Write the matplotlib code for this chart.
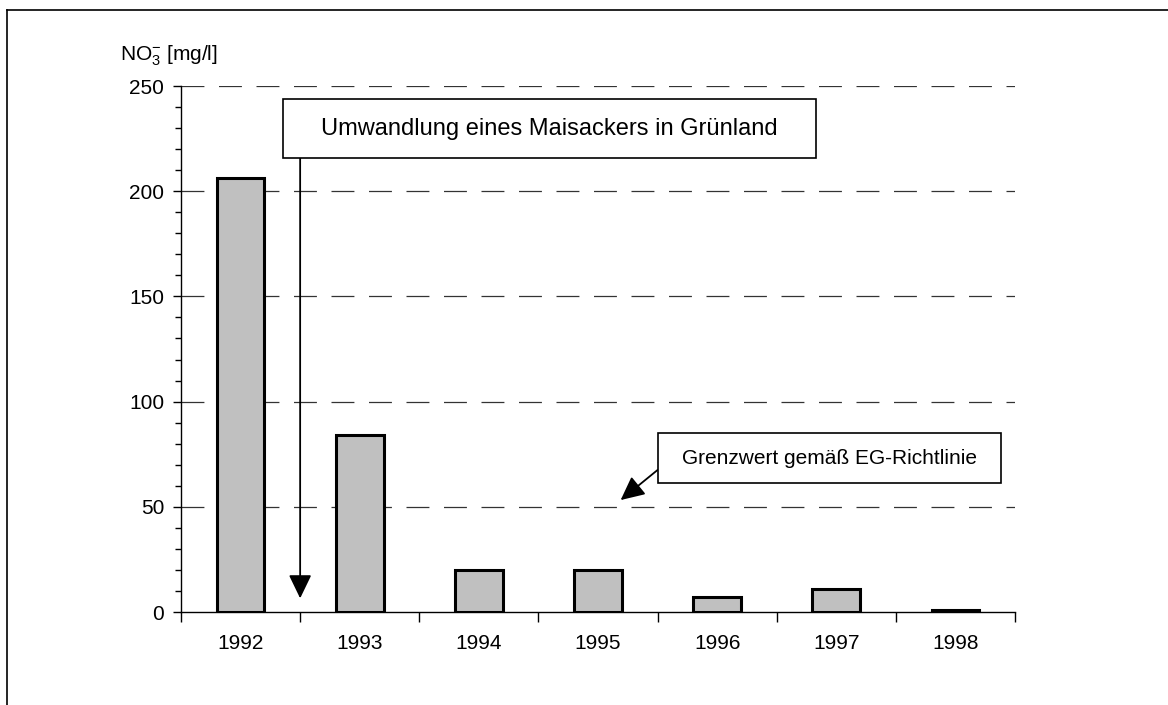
import numpy as np
import matplotlib
matplotlib.use('Agg')
import matplotlib.pyplot as plt
from matplotlib.patches import Rectangle
from matplotlib.lines import Line2D

plt.rcParams['font.family'] = ['Liberation Sans', 'DejaVu Sans']
plt.rcParams['mathtext.fontset'] = 'custom'
plt.rcParams['mathtext.rm'] = 'Liberation Sans'
plt.rcParams['mathtext.it'] = 'Liberation Sans'
plt.rcParams['lines.scale_dashes'] = False

years = ['1992', '1993', '1994', '1995', '1996', '1997', '1998']
nitrate = [206.5, 84, 20, 20, 7, 10.8, 1.0]
grid_levels = [50, 100, 150, 200, 250]

fig = plt.figure(figsize=(11.68, 7.05), dpi=100)
ax = fig.add_axes([181 / 1168, 1 - 612 / 705, 834 / 1168, 526 / 705])

x = np.arange(len(years))

# dashed horizontal lines behind the bars
for lvl in grid_levels:
	ax.axhline(lvl, color='#333333', linewidth=0.9, dashes=(16.5, 10.5), zorder=1)

ax.bar(x, nitrate, width=0.4, color='#c0c0c0', edgecolor='black', linewidth=2.2, zorder=3)

ax.set_xlim(-0.5, len(years) - 0.5)
ax.set_ylim(0, 250)

ax.spines['top'].set_visible(False)
ax.spines['right'].set_visible(False)
ax.spines['left'].set_linewidth(1.0)
ax.spines['bottom'].set_linewidth(1.0)

ax.set_yticks(np.arange(0, 251, 50))
ax.set_yticks(np.arange(0, 251, 10), minor=True)
ax.tick_params(axis='y', which='major', direction='out', length=6, width=1, labelsize=15, pad=6)
ax.tick_params(axis='y', which='minor', direction='out', length=4, width=1)

ax.set_xticks(x)
ax.set_xticklabels(years)
ax.set_xticks(np.arange(-0.5, len(years), 1.0), minor=True)
ax.tick_params(axis='x', which='major', length=0, labelsize=15, pad=16)
ax.tick_params(axis='x', which='minor', direction='out', length=7, width=1)

arrow_style = '-|>,head_length=1.45,head_width=0.7'

# annotation 1: box with long vertical arrow
ax.add_patch(Rectangle((0.356, 215.7), 4.474, 28.0, facecolor='white', edgecolor='black',
					   linewidth=1.2, zorder=5, clip_on=False))
ax.text(2.593, 229.7, 'Umwandlung eines Maisackers in Grünland', ha='center', va='center',
		fontsize=17, zorder=6)
ax.annotate('', xy=(0.5, 6.5), xytext=(0.5, 215.7),
			arrowprops=dict(arrowstyle=arrow_style, color='black',
							linewidth=1.3, shrinkA=0, shrinkB=0), zorder=4)

# annotation 2: limit value box
ax.add_patch(Rectangle((3.5, 61.3), 2.88, 23.7, facecolor='white', edgecolor='black',
					   linewidth=1.2, zorder=5, clip_on=False))
ax.text(4.94, 73.1, 'Grenzwert gemäß EG-Richtlinie', ha='center', va='center',
		fontsize=15, zorder=6)
ax.annotate('', xy=(3.19, 53.2), xytext=(3.5, 67.5),
			arrowprops=dict(arrowstyle=arrow_style, color='black',
							linewidth=1.3, shrinkA=0, shrinkB=0), zorder=4)

fig.text(120 / 1168, 1 - 56 / 705, r'NO$_3^{-}$ [mg/l]', ha='left', va='center', fontsize=15)

# outer frame (top and left edges visible)
fig.add_artist(Line2D([7 / 1168, 1.0], [1 - 10 / 705, 1 - 10 / 705], color='black', linewidth=1.2))
fig.add_artist(Line2D([7 / 1168, 7 / 1168], [0.0, 1 - 10 / 705], color='black', linewidth=1.2))

fig.savefig('out.png', dpi=100, facecolor='white')
